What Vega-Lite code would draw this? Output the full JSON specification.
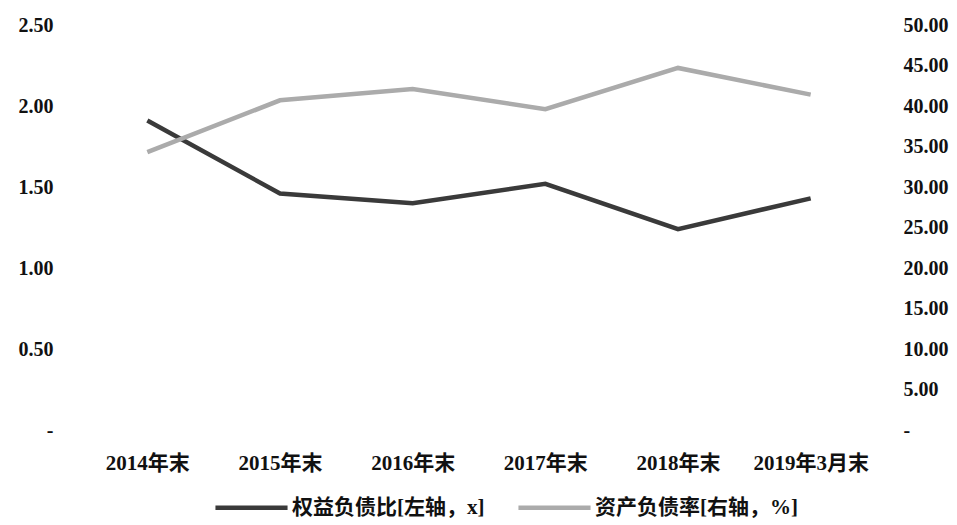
{
  "$schema": "https://vega.github.io/schema/vega-lite/v6.json",
  "width": 796,
  "height": 405,
  "autosize": "none",
  "padding": {"left": 81, "top": 25, "right": 80, "bottom": 95},
  "background": "white",
  "data": {
    "values": [
      {"period": "2014年末", "equity_debt_ratio": 1.91, "asset_liability_ratio": 34.3},
      {"period": "2015年末", "equity_debt_ratio": 1.46, "asset_liability_ratio": 40.7},
      {"period": "2016年末", "equity_debt_ratio": 1.40, "asset_liability_ratio": 42.1},
      {"period": "2017年末", "equity_debt_ratio": 1.52, "asset_liability_ratio": 39.6},
      {"period": "2018年末", "equity_debt_ratio": 1.24, "asset_liability_ratio": 44.7},
      {"period": "2019年3月末", "equity_debt_ratio": 1.43, "asset_liability_ratio": 41.4}
    ]
  },
  "config": {
    "view": {"stroke": null},
    "font": "Liberation Serif, Noto Sans CJK SC",
    "axis": {
      "domain": false,
      "ticks": false,
      "grid": false,
      "labelFont": "Liberation Serif, Noto Sans CJK SC",
      "labelFontWeight": "bold",
      "labelFontSize": 20,
      "labelColor": "#111111",
      "title": null
    }
  },
  "encoding": {
    "x": {
      "field": "period",
      "type": "nominal",
      "sort": null,
      "scale": {"type": "point", "padding": 0.5},
      "axis": {"labelAngle": 0, "labelPadding": 22, "labelFontSize": 21, "labelLimit": 200}
    }
  },
  "layer": [
    {
      "mark": {"type": "line", "strokeWidth": 4.5},
      "encoding": {
        "y": {
          "field": "equity_debt_ratio",
          "type": "quantitative",
          "scale": {"domain": [0, 2.5], "nice": false, "zero": true},
          "axis": {
            "orient": "left",
            "values": [0, 0.5, 1, 1.5, 2, 2.5],
            "labelPadding": 28,
            "labelExpr": "datum.value == 0 ? '-\u00a0\u00a0\u00a0' : format(datum.value, '.2f')"
          }
        },
        "color": {
          "datum": "权益负债比[左轴，x]",
          "scale": {
            "domain": ["权益负债比[左轴，x]", "资产负债率[右轴，%]"],
            "range": ["#3a3a3a", "#ababab"]
          },
          "legend": {
            "title": null,
            "orient": "none",
            "legendX": 132,
            "legendY": 444,
            "direction": "horizontal",
            "symbolType": "stroke",
            "symbolSize": 5200,
            "symbolStrokeWidth": 4.5,
            "labelFont": "Liberation Serif, Noto Sans CJK SC",
            "labelFontSize": 21,
            "labelFontWeight": "bold",
            "labelColor": "#111111",
            "labelOffset": 2,
            "labelLimit": 400,
            "columnPadding": 24
          }
        }
      }
    },
    {
      "mark": {"type": "line", "strokeWidth": 4.5},
      "encoding": {
        "y": {
          "field": "asset_liability_ratio",
          "type": "quantitative",
          "scale": {"domain": [0, 50], "nice": false, "zero": true},
          "axis": {
            "orient": "right",
            "values": [0, 5, 10, 15, 20, 25, 30, 35, 40, 45, 50],
            "labelPadding": 26,
            "labelAlign": "left",
            "labelExpr": "datum.value == 0 ? '-' : format(datum.value, '.2f')"
          }
        },
        "color": {"datum": "资产负债率[右轴，%]"}
      }
    }
  ],
  "resolve": {"scale": {"y": "independent"}}
}
